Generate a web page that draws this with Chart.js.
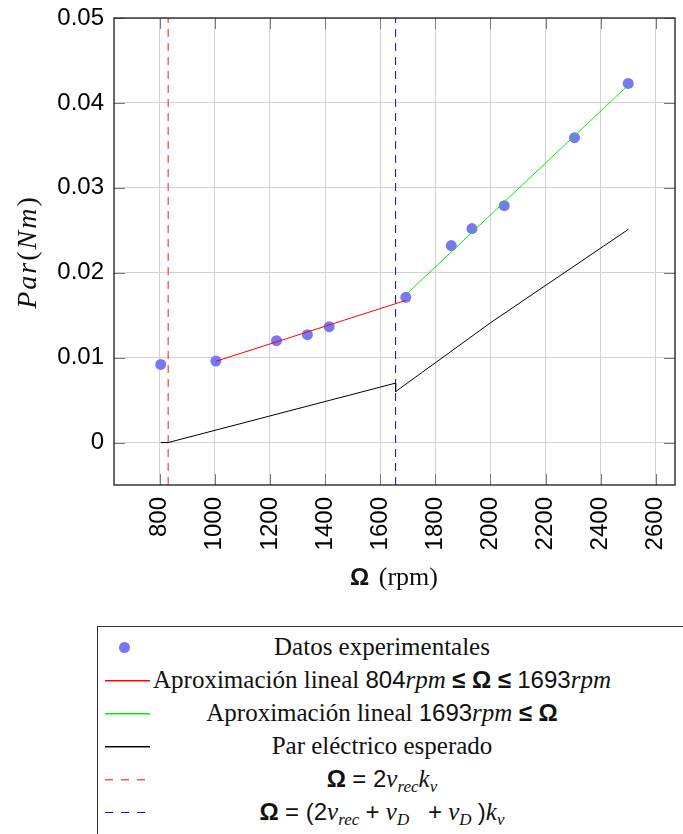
<!DOCTYPE html>
<html>
<head>
<meta charset="utf-8">
<script src="https://cdn.jsdelivr.net/npm/chart.js@4.4.1/dist/chart.umd.min.js"></script>
<style>
  body { margin: 0; background: #fff; width: 683px; height: 834px; overflow: hidden; position: relative; }
  #grafico { position: absolute; left: 0; top: 0; }
  #tituloX { position: absolute; left: 294px; width: 200px; top: 562px; text-align: center; white-space: nowrap;
             font-family: 'Liberation Serif', serif; font-size: 26px; color: #111; word-spacing: 3px; }
  #tituloY { position: absolute; left: -73px; top: 235px; width: 200px; height: 34px; line-height: 34px; text-align: center;
             transform: rotate(-90deg); white-space: nowrap; font-family: 'Liberation Serif', serif; font-size: 28px;
             color: #111; letter-spacing: 2px; }
  #leyenda { position: absolute; left: 97px; top: 626px; width: 640px; height: 260px;
             border: 1px solid #333; font-family: 'Liberation Serif', serif; font-size: 25px; color: #111; }
  .fila { position: absolute; left: 0; width: 568px; height: 32px; line-height: 32px; text-align: center; white-space: nowrap; }
  .punto { position: absolute; left: 21px; width: 11px; height: 11px; border-radius: 50%; }
  .trazo { position: absolute; left: 7px; height: 1px; }
  .s { font-family: 'Liberation Sans', sans-serif; font-size: 24px; }
  .b { font-family: 'Liberation Sans', sans-serif; font-size: 24px; font-weight: bold; }
  sub { font-size: 17px; vertical-align: -5px; line-height: 0; }
</style>
</head>
<body>
<canvas id="grafico" width="683" height="600"></canvas>
<div id="tituloY"><i>Par</i>(<i>Nm</i>)</div>
<div id="tituloX"><span class="b">Ω</span> (rpm)</div>
<div id="leyenda"></div>
<script>
// Par medido frente a velocidad del rotor
var xTicks = [800, 1000, 1200, 1400, 1600, 1800, 2000, 2200, 2400, 2600];
var yTicks = [0, 0.01, 0.02, 0.03, 0.04, 0.05];

var rpmDatos = [804, 1004, 1224, 1336, 1415, 1693, 1858, 1933, 2050, 2305, 2500];
var parDatos = [0.0092, 0.0096, 0.0120, 0.0127, 0.01365, 0.0171, 0.0232, 0.0252, 0.0279, 0.0359, 0.0423];

var rpmAjuste1 = [1004, 1693];
var parAjuste1 = [0.00957, 0.01674];
var rpmAjuste2 = [1693, 2500];
var parAjuste2 = [0.0174, 0.0421];

var rpmElectrico = [804, 831, 1656, 1656, 2000, 2500];
var parElectrico = [0, 0, 0.0070, 0.0060, 0.0141, 0.0251];

var rpmUmbral1 = 831;   // Ω = 2 v_rec k_v
var rpmUmbral2 = 1656;  // Ω = (2 v_rec + v_D + v_D) k_v

var xMin = 634.4, xMax = 2669.6, yMin = -0.005, yMax = 0.05;

var colores = ['#7878f4', '#ff0000', '#00ee00', '#000000', '#ff4d4d', '#0000ff'];
var suaves = [null, 'rgba(255,0,0,0.45)', 'rgba(0,238,0,0.45)', 'rgba(0,0,0,0.45)', 'rgba(255,77,77,0.45)', null];
var discontinua = [null, null, null, null, [8, 6], [8, 6]];

var leyendaTextos = [
  'Datos experimentales',
  'Aproximación lineal <span class="s">804</span><i>rpm</i> <span class="b">≤ Ω ≤</span> <span class="s">1693</span><i>rpm</i>',
  'Aproximación lineal <span class="s">1693</span><i>rpm</i> <span class="b">≤ Ω</span>',
  'Par eléctrico esperado',
  '<span class="b">Ω</span> <span class="s">= 2</span><i>v<sub>rec</sub>k<sub>v</sub></i>',
  '<span class="b">Ω</span> <span class="s">= (2</span><i>v<sub>rec</sub></i> <span class="s">+</span> <i>v<sub>D</sub></i> &nbsp; <span class="s">+</span> <i>v<sub>D</sub></i> <span class="s">)</span><i>k<sub>v</sub></i>'
];

function pares(xs, ys) {
  return xs.map(function (x, i) { return { x: x, y: ys[i] }; });
}
function vertical(x) {
  return [{ x: x, y: yMin }, { x: x, y: yMax }];
}
function linea(datos, i, ancho) {
  return { data: datos, showLine: true, pointRadius: 0, order: 0, borderColor: colores[i],
           borderWidth: ancho || 1, borderDash: discontinua[i] || [] };
}

var series = [
  { data: pares(rpmDatos, parDatos), showLine: false, order: 10,
    pointRadius: 5.5, pointBackgroundColor: colores[0], pointBorderWidth: 0 },
  linea(pares(rpmAjuste1, parAjuste1), 1),
  linea(pares(rpmAjuste2, parAjuste2), 2),
  linea(pares(rpmElectrico, parElectrico), 3),
  linea(vertical(rpmUmbral1), 4, 1.3),
  linea(vertical(rpmUmbral2), 5)
];

// marco y marcas de graduación hacia dentro, en los cuatro lados
var marco = {
  id: 'marco',
  beforeDatasetsDraw: function (c) {
    var a = c.chartArea, ctx = c.ctx, L = 11;
    ctx.save();
    ctx.strokeStyle = '#7a7a7a';
    ctx.lineWidth = 1;
    ctx.beginPath();
    c.scales.x.ticks.forEach(function (t) {
      var px = Math.round(c.scales.x.getPixelForValue(t.value)) + 0.5;
      ctx.moveTo(px, a.top); ctx.lineTo(px, a.top + L);
      ctx.moveTo(px, a.bottom); ctx.lineTo(px, a.bottom - L);
    });
    c.scales.y.ticks.forEach(function (t) {
      var py = Math.round(c.scales.y.getPixelForValue(t.value)) + 0.5;
      ctx.moveTo(a.left, py); ctx.lineTo(a.left + L, py);
      ctx.moveTo(a.right, py); ctx.lineTo(a.right - L, py);
    });
    ctx.stroke();
    ctx.restore();
  },
  afterDatasetsDraw: function (c) {
    var a = c.chartArea, ctx = c.ctx;
    ctx.save();
    ctx.strokeStyle = '#1a1a1a';
    ctx.lineWidth = 1.3;
    ctx.strokeRect(a.left, a.top, a.right - a.left, a.bottom - a.top);
    ctx.restore();
  }
};

new Chart(document.getElementById('grafico'), {
  type: 'scatter',
  data: { datasets: series },
  plugins: [marco],
  options: {
    responsive: false,
    animation: false,
    layout: { padding: { top: 18, right: 8, left: 0, bottom: 0 } },
    plugins: { legend: { display: false }, tooltip: { enabled: false } },
    scales: {
      x: {
        type: 'linear', min: xMin, max: xMax,
        afterBuildTicks: function (s) { s.ticks = xTicks.map(function (v) { return { value: v }; }); },
        afterFit: function (s) { s.height = 115; s.paddingLeft = 0; s.paddingRight = 0; },
        ticks: { autoSkip: false, minRotation: 90, maxRotation: 90, padding: 12, color: '#000',
                 font: { family: 'Liberation Sans', size: 24 }, callback: function (v) { return String(v); } },
        grid: { color: '#d2d2d2', drawTicks: false },
        border: { display: false }
      },
      y: {
        type: 'linear', min: yMin, max: yMax,
        afterBuildTicks: function (s) { s.ticks = yTicks.map(function (v) { return { value: v }; }); },
        afterFit: function (s) { s.width = 114; s.paddingTop = 0; s.paddingBottom = 0; },
        ticks: { autoSkip: false, padding: 10, color: '#000',
                 font: { family: 'Liberation Sans', size: 24 }, callback: function (v) { return String(v); } },
        grid: { color: '#d2d2d2', drawTicks: false },
        border: { display: false }
      }
    }
  }
});

// leyenda: muestra de cada serie y su texto centrado
var leyenda = document.getElementById('leyenda');
var filaY = [4, 37, 70, 103, 136, 169];
leyendaTextos.forEach(function (txt, i) {
  var muestra;
  var sombra = suaves[i] ? ';box-shadow:0 1px 0 ' + suaves[i] : '';
  if (i === 0) {
    muestra = '<div class="punto" style="top:' + (filaY[i] + 11) + 'px;background:' + colores[i] + '"></div>';
  } else if (discontinua[i]) {
    // el patrón de trazos se aplica también a la fila suave mediante una máscara
    muestra = '<div class="trazo" style="top:' + (filaY[i] + 16) + 'px;width:40px;height:' + (suaves[i] ? 2 : 1) +
      'px;background:linear-gradient(' + colores[i] + ' 0 1px,' + (suaves[i] || colores[i]) + ' 1px 2px);' +
      '-webkit-mask:repeating-linear-gradient(90deg,#000 0 8px,transparent 8px 16px)"></div>';
  } else {
    muestra = '<div class="trazo" style="top:' + (filaY[i] + 16) + 'px;width:45px;background:' + colores[i] + sombra + '"></div>';
  }
  leyenda.insertAdjacentHTML('beforeend', muestra + '<div class="fila" style="top:' + filaY[i] + 'px">' + txt + '</div>');
});
</script>
</body>
</html>
